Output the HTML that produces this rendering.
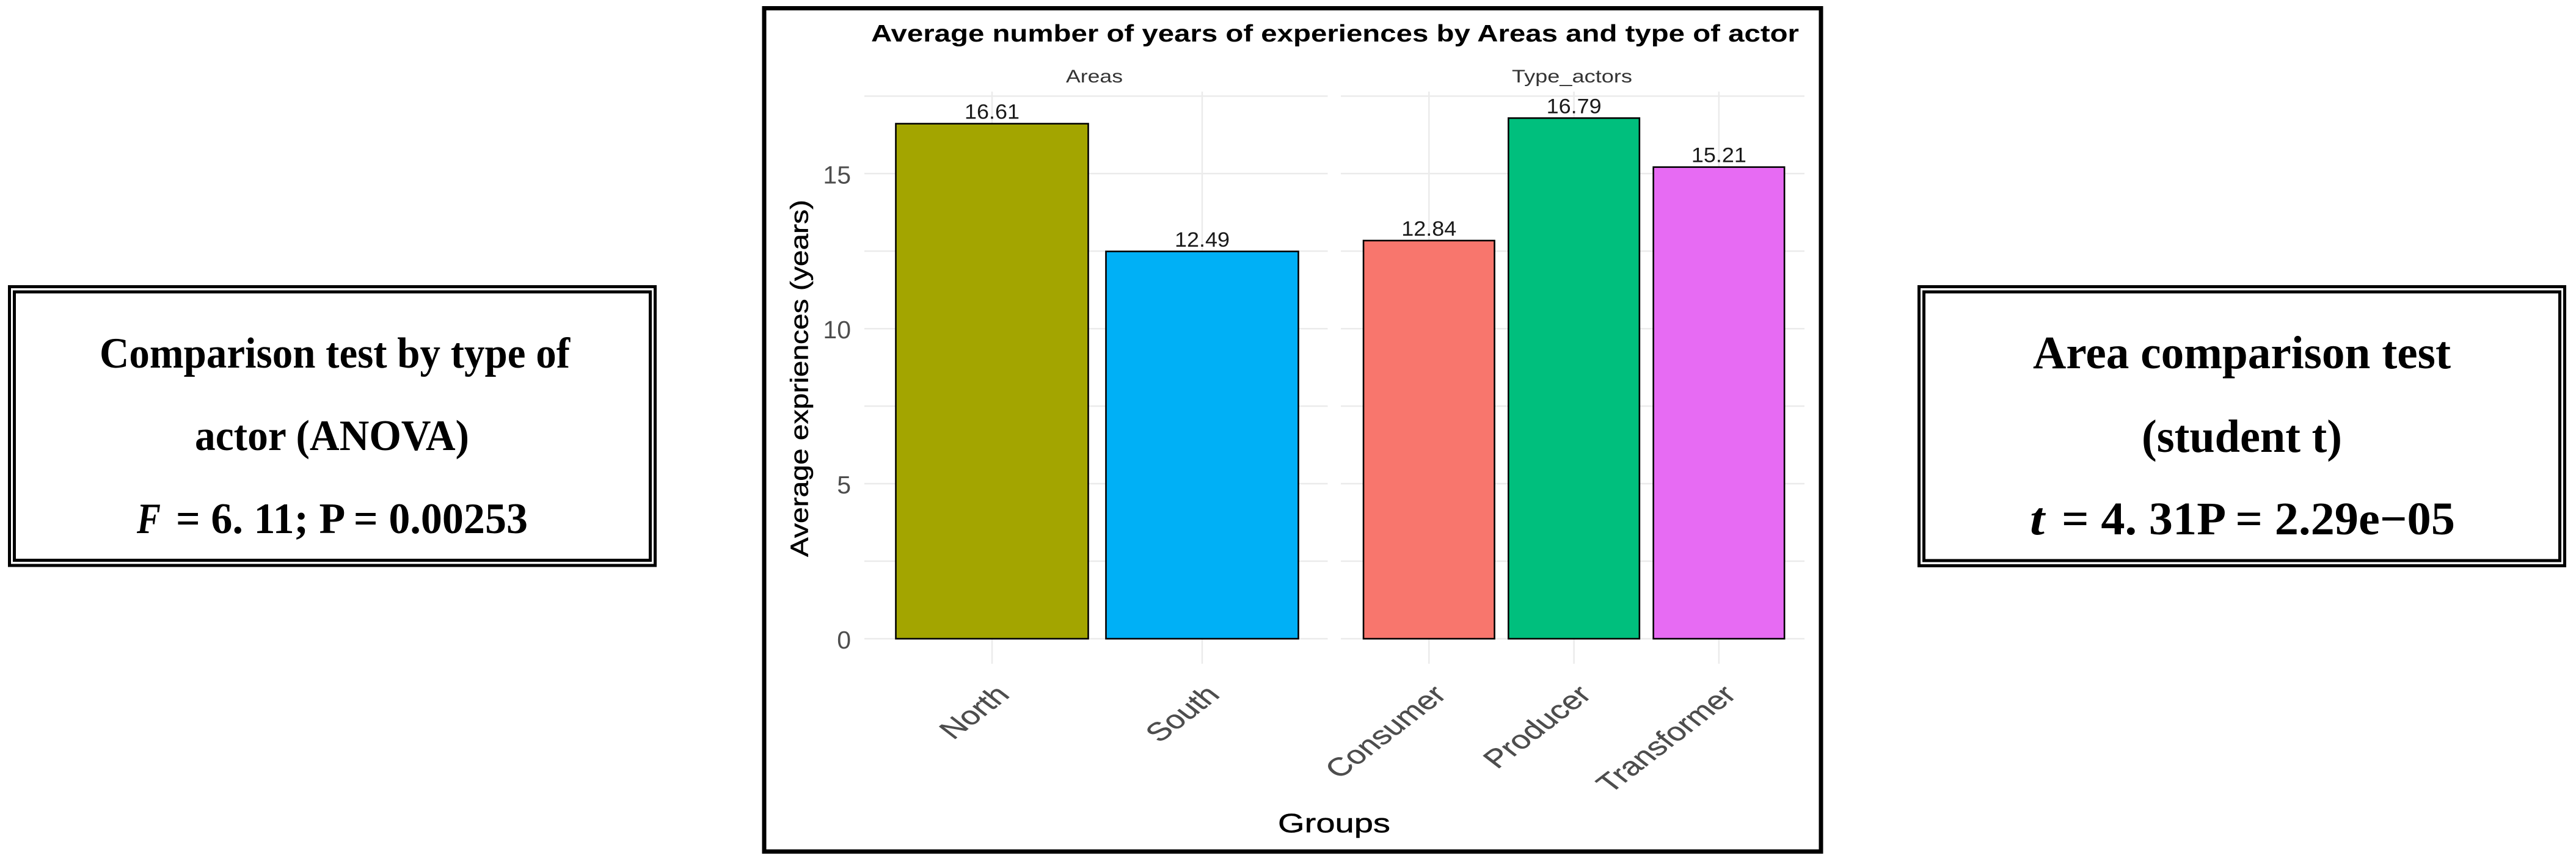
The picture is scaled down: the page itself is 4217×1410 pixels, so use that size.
<!DOCTYPE html>
<html lang="en">
<head>
<meta charset="utf-8">
<title>Average number of years of experiences by Areas and type of actor</title>
<style>
html,body{margin:0;padding:0;background:#fff;}
svg{display:block;}
.serif{font-family:"Liberation Serif",serif;font-weight:bold;fill:#000;}
.sans{font-family:"Liberation Sans",sans-serif;}
.grid{stroke:#EBEBEB;stroke-width:2.5;fill:none;}
.bar{stroke:#000;stroke-width:2.6;}
.fill-north{fill:#A3A500;}
.fill-south{fill:#00B0F6;}
.fill-consumer{fill:#F8766D;}
.fill-producer{fill:#00BF7D;}
.fill-transformer{fill:#E76BF3;}
.tick-y{font-size:41px;fill:#4D4D4D;text-anchor:end;}
.tick-x{font-size:42px;fill:#4D4D4D;stroke:#4D4D4D;stroke-width:.4;text-anchor:end;}
.value{font-size:34px;fill:#1a1a1a;text-anchor:middle;}
</style>
</head>
<body>
<svg id="chart" xmlns="http://www.w3.org/2000/svg" width="4217" height="1410" viewBox="0 0 4217 1410">
  <rect x="0" y="0" width="4217" height="1410" fill="#fff"/>

  <g>
    <rect x="15.5" y="469.5" width="1057" height="456.5" fill="none" stroke="#000" stroke-width="5"/>
    <rect x="23.5" y="478" width="1041" height="439.5" fill="none" stroke="#000" stroke-width="5"/>
    <text class="serif" font-size="71" x="163" y="602" textLength="770" lengthAdjust="spacingAndGlyphs">Comparison test by type of</text>
    <text class="serif" font-size="71" x="319" y="737" textLength="449" lengthAdjust="spacingAndGlyphs">actor (ANOVA)</text>
    <text class="serif" font-style="italic" font-size="71" x="224" y="873" textLength="39" lengthAdjust="spacingAndGlyphs">F</text>
    <text class="serif" font-size="71" x="288" y="873" textLength="576" lengthAdjust="spacingAndGlyphs">= 6. 11; P = 0.00253</text>
  </g>

  <g>
    <rect x="3141.5" y="469.5" width="1057" height="457" fill="none" stroke="#000" stroke-width="5"/>
    <rect x="3149.5" y="478" width="1041" height="440" fill="none" stroke="#000" stroke-width="5"/>
    <text class="serif" font-size="76" x="3328" y="603" textLength="684" lengthAdjust="spacingAndGlyphs">Area comparison test</text>
    <text class="serif" font-size="76" x="3506" y="740" textLength="328" lengthAdjust="spacingAndGlyphs">(student t)</text>
    <text class="serif" font-style="italic" font-size="76" x="3323" y="875" textLength="24" lengthAdjust="spacingAndGlyphs">t</text>
    <text class="serif" font-size="76" x="3375" y="875" textLength="644" lengthAdjust="spacingAndGlyphs">= 4. 31P = 2.29e−05</text>
  </g>

  <rect x="1251" y="13.5" width="1730" height="1381" fill="none" stroke="#000" stroke-width="7"/>
  <text class="sans" font-weight="bold" font-size="39" fill="#000" x="1426" y="68" textLength="1519" lengthAdjust="spacingAndGlyphs">Average number of years of experiences by Areas and type of actor</text>
  <text class="sans" font-size="30" fill="#333" x="1745" y="135" textLength="93" lengthAdjust="spacingAndGlyphs">Areas</text>
  <text class="sans" font-size="30" fill="#333" x="2475" y="135" textLength="197" lengthAdjust="spacingAndGlyphs">Type_actors</text>
  <text class="sans" font-size="41" fill="#000" stroke="#000" stroke-width=".5" text-anchor="middle" transform="translate(1322.5,619.5) rotate(-90)" textLength="585" lengthAdjust="spacingAndGlyphs">Average expriences (years)</text>
  <text class="sans" font-size="44" fill="#000" stroke="#000" stroke-width=".5" x="2092" y="1363" textLength="184" lengthAdjust="spacingAndGlyphs">Groups</text>
  <g id="plot"></g>
</svg>

<script>
const areaCategories = ['North', 'South'];
const areaValues = [16.61, 12.49];
const actorCategories = ['Consumer', 'Producer', 'Transformer'];
const actorValues = [12.84, 16.79, 15.21];
const yTickValues = [0, 5, 10, 15];
const yMinorValues = [2.5, 7.5, 12.5, 17.5];

const SVG_NS = 'http://www.w3.org/2000/svg';
const plot = document.getElementById('plot');

function yScale(v) { return 1046 - 50.78 * v; }

function bandScale(first, step) {
  return function (i) { return first + step * i; };
}

function make(tag, attrs, text) {
  const el = document.createElementNS(SVG_NS, tag);
  for (const k in attrs) el.setAttribute(k, attrs[k]);
  if (text !== undefined) el.textContent = text;
  plot.appendChild(el);
  return el;
}

function drawPanel(panelName, categories, values, left, right, xScale, barWidth, labelBaseline) {
  [...yMinorValues, ...yTickValues].forEach(function (v) {
    const line = make('line', { class: 'grid', x1: left, x2: right, y1: yScale(v), y2: yScale(v) });
    
    
  });
  categories.forEach(function (c, i) {
    const line = make('line', { class: 'grid', x1: xScale(i), x2: xScale(i), y1: 150, y2: 1087 });
    
    
  });
  categories.forEach(function (c, i) {
    const key = c.toLowerCase();
    const top = yScale(values[i]);
    const cx = xScale(i);
    const bar = make('rect', {
      class: 'bar fill-' + key,
      x: cx - barWidth / 2,
      y: top,
      width: barWidth,
      height: yScale(0) - top
    });
    
    

    const valueLabel = make('text', {
      class: 'value sans',
      x: cx,
      y: top - 8,
      textLength: 90,
      lengthAdjust: 'spacingAndGlyphs'
    }, values[i].toFixed(2));
    
    

    const tickLabel = make('text', {
      class: 'tick-x sans',
      transform: 'translate(' + (cx + 31) + ',' + labelBaseline + ') scale(1.3,1) rotate(-45)'
    }, c);
    
    
  });
}

drawPanel('areas', areaCategories, areaValues, 1415, 2173.5, bandScale(1624, 344), 315, 1140);
drawPanel('type-actors', actorCategories, actorValues, 2195, 2954, bandScale(2339.3, 237.3), 214.5, 1140);

yTickValues.forEach(function (v) {
  const label = make('text', { class: 'tick-y sans', x: 1393, y: yScale(v) + 16 }, String(v));
  
  
});
</script>
</body>
</html>
